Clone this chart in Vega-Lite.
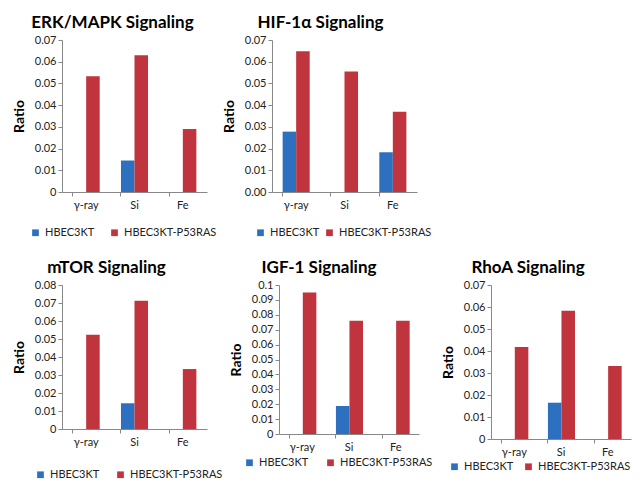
{
  "$schema": "https://vega.github.io/schema/vega-lite/v6.json",
  "background": "white",
  "padding": {"left": 12, "top": 14, "right": 5, "bottom": 5},
  "spacing": 21,
  "resolve": {"scale": {"color": "independent"}, "legend": {"color": "independent"}},
  "datasets": {
    "d": [
      {"panel": "ERK", "cat": "γ-ray", "line": "HBEC3KT", "ratio": 0},
      {"panel": "ERK", "cat": "γ-ray", "line": "HBEC3KT-P53RAS", "ratio": 0.0533},
      {"panel": "ERK", "cat": "Si", "line": "HBEC3KT", "ratio": 0.0145},
      {"panel": "ERK", "cat": "Si", "line": "HBEC3KT-P53RAS", "ratio": 0.063},
      {"panel": "ERK", "cat": "Fe", "line": "HBEC3KT", "ratio": 0},
      {"panel": "ERK", "cat": "Fe", "line": "HBEC3KT-P53RAS", "ratio": 0.029},
      {"panel": "HIF", "cat": "γ-ray", "line": "HBEC3KT", "ratio": 0.0278},
      {"panel": "HIF", "cat": "γ-ray", "line": "HBEC3KT-P53RAS", "ratio": 0.0648},
      {"panel": "HIF", "cat": "Si", "line": "HBEC3KT", "ratio": 0},
      {"panel": "HIF", "cat": "Si", "line": "HBEC3KT-P53RAS", "ratio": 0.0555},
      {"panel": "HIF", "cat": "Fe", "line": "HBEC3KT", "ratio": 0.0183},
      {"panel": "HIF", "cat": "Fe", "line": "HBEC3KT-P53RAS", "ratio": 0.037},
      {"panel": "mTOR", "cat": "γ-ray", "line": "HBEC3KT", "ratio": 0},
      {"panel": "mTOR", "cat": "γ-ray", "line": "HBEC3KT-P53RAS", "ratio": 0.0524},
      {"panel": "mTOR", "cat": "Si", "line": "HBEC3KT", "ratio": 0.0143},
      {"panel": "mTOR", "cat": "Si", "line": "HBEC3KT-P53RAS", "ratio": 0.0712},
      {"panel": "mTOR", "cat": "Fe", "line": "HBEC3KT", "ratio": 0},
      {"panel": "mTOR", "cat": "Fe", "line": "HBEC3KT-P53RAS", "ratio": 0.0333},
      {"panel": "IGF", "cat": "γ-ray", "line": "HBEC3KT", "ratio": 0},
      {"panel": "IGF", "cat": "γ-ray", "line": "HBEC3KT-P53RAS", "ratio": 0.095},
      {"panel": "IGF", "cat": "Si", "line": "HBEC3KT", "ratio": 0.0188},
      {"panel": "IGF", "cat": "Si", "line": "HBEC3KT-P53RAS", "ratio": 0.076},
      {"panel": "IGF", "cat": "Fe", "line": "HBEC3KT", "ratio": 0},
      {"panel": "IGF", "cat": "Fe", "line": "HBEC3KT-P53RAS", "ratio": 0.076},
      {"panel": "RhoA", "cat": "γ-ray", "line": "HBEC3KT", "ratio": 0},
      {"panel": "RhoA", "cat": "γ-ray", "line": "HBEC3KT-P53RAS", "ratio": 0.0418},
      {"panel": "RhoA", "cat": "Si", "line": "HBEC3KT", "ratio": 0.0165},
      {"panel": "RhoA", "cat": "Si", "line": "HBEC3KT-P53RAS", "ratio": 0.0583},
      {"panel": "RhoA", "cat": "Fe", "line": "HBEC3KT", "ratio": 0},
      {"panel": "RhoA", "cat": "Fe", "line": "HBEC3KT-P53RAS", "ratio": 0.0332}
    ]
  },
  "data": {"name": "d"},
  "config": {
    "font": "Lato",
    "view": {"stroke": null},
    "title": {"fontSize": 17, "fontWeight": "bold", "color": "black", "anchor": "middle"},
    "axis": {"labelFont": "Lato", "labelFontSize": 11, "labelColor": "#222", "domainColor": "#888", "tickColor": "#888", "tickSize": 4, "grid": false, "titleFontSize": 14, "titleFontWeight": "bold", "titleColor": "black"},
    "axisX": {"labelPadding": 3, "bandPosition": 0},
    "legend": {"orient": "none", "direction": "horizontal", "title": null, "symbolType": "square", "symbolSize": 45, "symbolStrokeWidth": 0, "labelFontSize": 11, "labelColor": "#222", "labelOffset": 4}
  },
  "vconcat": [
    {
      "bounds": "flush",
      "spacing": 65,
      "resolve": {"scale": {"color": "independent"}, "legend": {"color": "independent"}},
      "hconcat": [
        {
          "title": {"text": "ERK/MAPK Signaling", "dx": -22, "offset": 2},
          "width": 145, "height": 152,
          "transform": [{"filter": "datum.panel === 'ERK'"}],
          "mark": {"type": "bar"},
          "encoding": {
            "x": {"field": "cat", "type": "nominal", "sort": ["γ-ray", "Si", "Fe"], "scale": {"paddingInner": 0.44, "paddingOuter": 0.22}, "axis": {"title": null, "labelAngle": 0}},
            "xOffset": {"field": "line", "type": "nominal"},
            "y": {"field": "ratio", "type": "quantitative", "scale": {"domain": [0, 0.07]}, "axis": {"title": "Ratio", "values": [0, 0.01, 0.02, 0.03, 0.04, 0.05, 0.06, 0.07], "format": ".2~f", "titlePadding": 8}},
            "color": {"field": "line", "type": "nominal", "scale": {"range": ["#2E70C0", "#BF343D"]}, "legend": {"legendX": -32, "legendY": 187, "columnPadding": 14}}
          }
        },
        {
          "title": {"text": "HIF-1α Signaling", "dx": -24, "offset": 2},
          "width": 145, "height": 152,
          "transform": [{"filter": "datum.panel === 'HIF'"}],
          "mark": {"type": "bar"},
          "encoding": {
            "x": {"field": "cat", "type": "nominal", "sort": ["γ-ray", "Si", "Fe"], "scale": {"paddingInner": 0.44, "paddingOuter": 0.22}, "axis": {"title": null, "labelAngle": 0}},
            "xOffset": {"field": "line", "type": "nominal"},
            "y": {"field": "ratio", "type": "quantitative", "scale": {"domain": [0, 0.07]}, "axis": {"title": "Ratio", "values": [0, 0.01, 0.02, 0.03, 0.04, 0.05, 0.06, 0.07], "format": ".2f", "titlePadding": 8}},
            "color": {"field": "line", "type": "nominal", "scale": {"range": ["#2E70C0", "#BF343D"]}, "legend": {"legendX": -17, "legendY": 187, "columnPadding": 4}}
          }
        }
      ]
    },
    {
      "bounds": "flush",
      "spacing": 72,
      "resolve": {"scale": {"color": "independent"}, "legend": {"color": "independent"}},
      "hconcat": [
        {
          "title": {"text": "mTOR Signaling", "dx": -28, "offset": 2},
          "width": 145, "height": 144,
          "transform": [{"filter": "datum.panel === 'mTOR'"}],
          "mark": {"type": "bar"},
          "encoding": {
            "x": {"field": "cat", "type": "nominal", "sort": ["γ-ray", "Si", "Fe"], "scale": {"paddingInner": 0.44, "paddingOuter": 0.22}, "axis": {"title": null, "labelAngle": 0}},
            "xOffset": {"field": "line", "type": "nominal"},
            "y": {"field": "ratio", "type": "quantitative", "scale": {"domain": [0, 0.08]}, "axis": {"title": "Ratio", "values": [0, 0.01, 0.02, 0.03, 0.04, 0.05, 0.06, 0.07, 0.08], "format": ".2~f", "titlePadding": 8}},
            "color": {"field": "line", "type": "nominal", "scale": {"range": ["#2E70C0", "#BF343D"]}, "legend": {"legendX": -27, "legendY": 184, "columnPadding": 15}}
          }
        },
        {
          "title": {"text": "IGF-1 Signaling", "dx": -30, "offset": 2},
          "width": 140, "height": 149,
          "transform": [{"filter": "datum.panel === 'IGF'"}],
          "mark": {"type": "bar"},
          "encoding": {
            "x": {"field": "cat", "type": "nominal", "sort": ["γ-ray", "Si", "Fe"], "scale": {"paddingInner": 0.44, "paddingOuter": 0.22}, "axis": {"title": null, "labelAngle": 0}},
            "xOffset": {"field": "line", "type": "nominal"},
            "y": {"field": "ratio", "type": "quantitative", "scale": {"domain": [0, 0.1]}, "axis": {"title": "Ratio", "values": [0, 0.01, 0.02, 0.03, 0.04, 0.05, 0.06, 0.07, 0.08, 0.09, 0.1], "format": ".2~f", "titlePadding": 8}},
            "color": {"field": "line", "type": "nominal", "scale": {"range": ["#2E70C0", "#BF343D"]}, "legend": {"legendX": -35, "legendY": 172, "columnPadding": 16}}
          }
        },
        {
          "title": {"text": "RhoA Signaling", "dx": -33, "offset": 2},
          "width": 140, "height": 154,
          "transform": [{"filter": "datum.panel === 'RhoA'"}],
          "mark": {"type": "bar"},
          "encoding": {
            "x": {"field": "cat", "type": "nominal", "sort": ["γ-ray", "Si", "Fe"], "scale": {"paddingInner": 0.44, "paddingOuter": 0.22}, "axis": {"title": null, "labelAngle": 0}},
            "xOffset": {"field": "line", "type": "nominal"},
            "y": {"field": "ratio", "type": "quantitative", "scale": {"domain": [0, 0.07]}, "axis": {"title": "Ratio", "values": [0, 0.01, 0.02, 0.03, 0.04, 0.05, 0.06, 0.07], "format": ".2~f", "titlePadding": 8}},
            "color": {"field": "line", "type": "nominal", "scale": {"range": ["#2E70C0", "#BF343D"]}, "legend": {"legendX": -42, "legendY": 176, "columnPadding": 9}}
          }
        }
      ]
    }
  ]
}
